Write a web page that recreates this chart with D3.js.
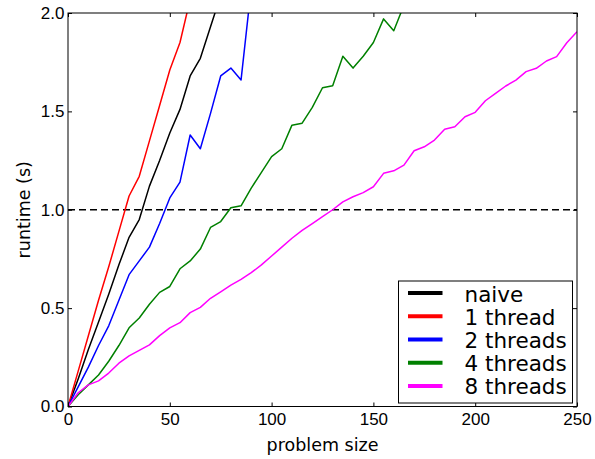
<!DOCTYPE html>
<html>
<head>
<meta charset="utf-8">
<script src="https://cdn.jsdelivr.net/npm/d3@7"></script>
<style>
  body { margin: 0; background: #fff; }
  svg { font-family: "DejaVu Sans", sans-serif; }
  .tick text { font-size: 17px; fill: #000; }
  .domain { display: none; }
  .tick line { stroke: #000; }
</style>
</head>
<body>
<div id="chart"></div>
<script>
// problem sizes (x) and runtimes (s) per variant
var sizes = [0, 5, 10, 15, 20, 25, 30, 35, 40, 45, 50, 55, 60, 65, 70, 75, 80, 85, 90, 95,
  100, 105, 110, 115, 120, 125, 130, 135, 140, 145, 150, 155, 160, 165, 170, 175, 180, 185, 190, 195,
  200, 205, 210, 215, 220, 225, 230, 235, 240, 245, 250];

var naive = [0, 0.14, 0.29, 0.43, 0.57, 0.72, 0.86, 0.95, 1.12, 1.25, 1.39, 1.51, 1.68, 1.77, 1.93, 2.09];
var thread1 = [0, 0.18, 0.36, 0.54, 0.71, 0.89, 1.07, 1.17, 1.35, 1.53, 1.71, 1.85, 2.07];
var thread2 = [0, 0.1, 0.2, 0.31, 0.41, 0.54, 0.67, 0.74, 0.81, 0.93, 1.06, 1.14, 1.38, 1.31, 1.49, 1.68, 1.72, 1.66, 2.13];
var thread4 = [0, 0.06, 0.11, 0.16, 0.23, 0.31, 0.40, 0.45, 0.52, 0.58, 0.61, 0.70, 0.74, 0.80, 0.91, 0.94, 1.01, 1.02,
  1.11, 1.19, 1.27, 1.31, 1.43, 1.44, 1.52, 1.62, 1.63, 1.78, 1.72, 1.78, 1.85, 1.97, 1.91, 2.04];
var thread8 = [0, 0.07, 0.11, 0.13, 0.17, 0.22, 0.257, 0.285, 0.313, 0.36, 0.40, 0.426, 0.477, 0.504, 0.55, 0.583, 0.617, 0.646,
  0.68, 0.72, 0.765, 0.81, 0.855, 0.895, 0.93, 0.965, 1.0, 1.04, 1.066, 1.087, 1.117, 1.185, 1.198, 1.227, 1.30, 1.32,
  1.354, 1.409, 1.422, 1.473, 1.495, 1.554, 1.592, 1.629, 1.659, 1.702, 1.719, 1.756, 1.778, 1.849, 1.905];

var seriesNames = ["naive", "1 thread", "2 threads", "4 threads", "8 threads"];
var seriesColors = ["#000000", "#ff0000", "#0000ff", "#008000", "#ff00ff"];
var seriesValues = [naive, thread1, thread2, thread4, thread8];

var xTicks = [0, 50, 100, 150, 200, 250];
var yTicks = [0.0, 0.5, 1.0, 1.5, 2.0];
var threshold = 1.0;

var width = 595, height = 459;
var margin = {top: 13, right: 18, bottom: 52.5, left: 68};
var innerW = width - margin.left - margin.right,
    innerH = height - margin.top - margin.bottom;

var svg = d3.select("#chart").append("svg")
    .attr("width", width)
    .attr("height", height);

var g = svg.append("g")
    .attr("transform", "translate(" + margin.left + "," + margin.top + ")");

var x = d3.scaleLinear().domain([0, 250]).range([0, innerW]);
var y = d3.scaleLinear().domain([0, 2]).range([innerH, 0]);

g.append("clipPath").attr("id", "clip")
  .append("rect").attr("width", innerW).attr("height", innerH);

// dashed 1 s line
g.append("line")
    .attr("x1", x(0)).attr("x2", x(250))
    .attr("y1", y(threshold)).attr("y2", y(threshold))
    .attr("stroke", "#000")
    .attr("stroke-width", 1.5)
    .attr("stroke-dasharray", "7,4");

var line = d3.line()
    .x(function(d, i) { return x(sizes[i]); })
    .y(function(d) { return y(d); });

g.append("g").attr("clip-path", "url(#clip)")
  .selectAll("path")
  .data(seriesValues)
  .enter().append("path")
    .attr("d", line)
    .attr("fill", "none")
    .attr("stroke", function(d, i) { return seriesColors[i]; })
    .attr("stroke-width", 1.5)
    .attr("stroke-linejoin", "round");

// axes, ticks pointing inward
g.append("g")
    .attr("transform", "translate(0," + innerH + ")")
    .call(d3.axisBottom(x).tickValues(xTicks).tickSize(-4).tickPadding(6).tickFormat(d3.format("d")));
g.append("g")
    .call(d3.axisTop(x).tickValues(xTicks).tickSize(-4).tickFormat(""));
g.append("g")
    .call(d3.axisLeft(y).tickValues(yTicks).tickSize(-4).tickPadding(3.5).tickFormat(d3.format(".1f")));
g.append("g")
    .attr("transform", "translate(" + innerW + ",0)")
    .call(d3.axisRight(y).tickValues(yTicks).tickSize(-4).tickFormat(""));

g.append("rect")
    .attr("width", innerW).attr("height", innerH)
    .attr("fill", "none").attr("stroke", "#000").attr("stroke-width", 1);

g.append("text")
    .attr("x", innerW / 2).attr("y", innerH + 44)
    .attr("text-anchor", "middle")
    .style("font-size", "17.5px")
    .text("problem size");

g.append("text")
    .attr("transform", "translate(" + (30 - margin.left) + "," + (innerH / 2) + ") rotate(-90)")
    .attr("text-anchor", "middle")
    .style("font-size", "17.5px")
    .text("runtime (s)");

// legend
var legend = g.append("g")
    .attr("transform", "translate(" + (innerW - 179) + "," + (innerH - 126) + ")");

legend.append("rect")
    .attr("x", 0.5).attr("y", 0.5)
    .attr("width", 174).attr("height", 122)
    .attr("fill", "#fff").attr("stroke", "#000").attr("stroke-width", 1);

var item = legend.selectAll(".item")
    .data(seriesNames)
  .enter().append("g")
    .attr("class", "item")
    .attr("transform", function(d, i) { return "translate(0," + (12.6 + i * 23.2) + ")"; });

item.append("line")
    .attr("x1", 10).attr("x2", 44.5)
    .attr("stroke", function(d, i) { return seriesColors[i]; })
    .attr("stroke-width", 4);

item.append("text")
    .attr("x", 66.5).attr("y", 8.4)
    .style("font-size", "21.5px")
    .text(function(d) { return d; });
</script>
</body>
</html>
